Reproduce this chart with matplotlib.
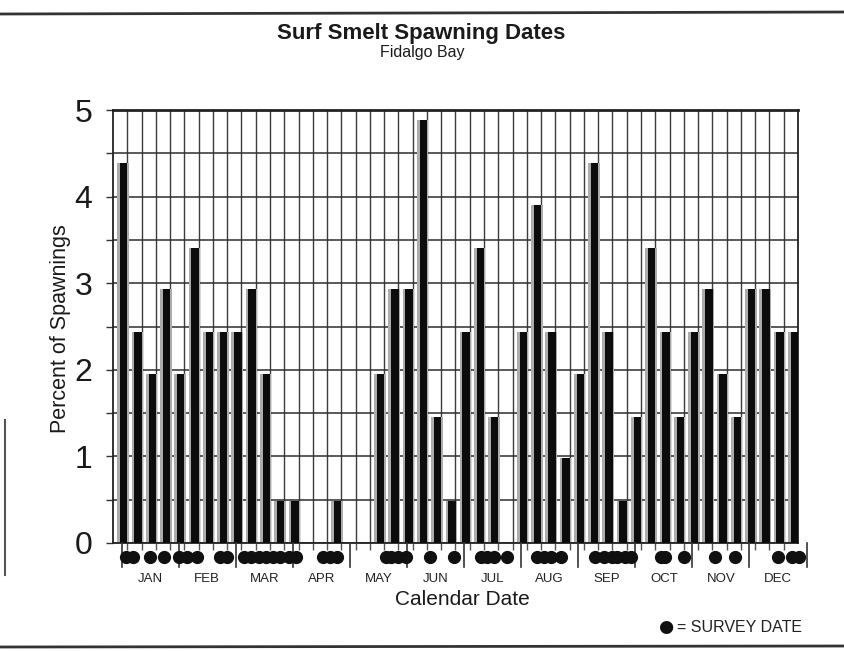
import numpy as np
import matplotlib
matplotlib.use("Agg")
import matplotlib.pyplot as plt

# ---- data -------------------------------------------------------------
months = ["JAN", "FEB", "MAR", "APR", "MAY", "JUN",
          "JUL", "AUG", "SEP", "OCT", "NOV", "DEC"]

# weekly bins (4 per month), percent of all spawnings observed in each bin
week = list(range(48))
percent = [4.39, 2.44, 1.95, 2.93, 1.95, 3.41, 2.44, 2.44,
           2.44, 2.93, 1.95, 0.49, 0.49, 0.00, 0.00, 0.49,
           0.00, 0.00, 1.95, 2.93, 2.93, 4.88, 1.46, 0.49,
           2.44, 3.41, 1.46, 0.00, 2.44, 3.90, 2.44, 0.98,
           1.95, 4.39, 2.44, 0.49, 1.46, 3.41, 2.44, 1.46,
           2.44, 2.93, 1.95, 1.46, 2.93, 2.93, 2.44, 2.44]

# survey dates, in weeks from 1 January (4 weeks per month)
survey = [0.3, 0.8, 2.0, 3.0, 4.0, 4.6, 5.3, 6.9, 7.4,
          8.6, 9.1, 9.6, 10.1, 10.6, 11.1, 11.7, 12.2,
          14.1, 14.6, 15.1, 18.5, 18.9, 19.4, 19.9,
          21.6, 23.3, 25.2, 25.6, 26.1, 27.0,
          29.1, 29.6, 30.1, 30.8, 33.2, 33.8, 34.4, 34.7, 35.3, 35.7,
          37.8, 38.1, 39.4, 41.6, 43.0, 46.0, 47.0, 47.5]

yticks = [0, 1, 2, 3, 4, 5]

# ---- figure -----------------------------------------------------------
plt.rcParams["font.family"] = ["Liberation Sans", "DejaVu Sans"]
W, H = 845, 651
fig = plt.figure(figsize=(W / 100, H / 100), dpi=100)
fig.patch.set_facecolor("white")

L, R, T, B = 113, 798, 110, 543
ax = fig.add_axes([L / W, 1 - B / H, (R - L) / W, (B - T) / H])

x0 = -0.6
ax.set_xlim(x0, x0 + 48)
ax.set_ylim(0, 5)

# grid: one column per week, one row per half percent
ax.set_xticks(np.arange(1, 48) + x0, minor=True)
ax.set_xticks([])
ax.set_yticks(yticks)
ax.set_yticks(np.arange(0.5, 5, 0.5), minor=True)
ax.grid(True, which="minor", axis="x", color="#3c3c3c", lw=1.0)
ax.grid(True, which="both", axis="y", color="#2e2e2e", lw=1.1)
ax.set_axisbelow(True)

for s in ax.spines.values():
    s.set_color("#222222")
    s.set_linewidth(1.3)
ax.spines["top"].set_linewidth(2.0)

ax.tick_params(axis="y", which="both", direction="out", length=5,
               width=1.0, color="#333333", labelsize=23, pad=10)
ax.tick_params(axis="x", which="minor", direction="out", length=5,
               width=1.0, color="#555555")
ax.set_yticklabels([str(v) for v in yticks], color="#1a1a1a")

# bars, with the soft grey fringe of the print
wx = np.array(week) + 0.15
ax.bar(wx - 0.05, percent, width=0.8, color="#acacac", zorder=2)
ax.bar(wx, percent, width=0.52, color="#0c0c0c", zorder=3)

# month separators, labels and survey markers below the axis
trans = ax.get_xaxis_transform()
for m in range(13):
    ax.plot([4 * m, 4 * m], [0, -0.055], transform=trans, color="#333333",
            lw=1.2, clip_on=False, zorder=4)
for m, name in enumerate(months):
    ax.text(4 * m + 2, -0.083, name, transform=trans, ha="center",
            va="center", fontsize=9.5, color="#222222")
ax.plot(survey, [-0.032] * len(survey), "o", transform=trans,
        color="#101010", ms=8.5, clip_on=False, zorder=5)

ax.text(-0.077, 0.494, "Percent of Spawnings", transform=ax.transAxes,
        rotation=90, ha="center", va="center", fontsize=15.5,
        color="#1a1a1a")
ax.text(0.51, -0.13, "Calendar Date", transform=ax.transAxes,
        ha="center", va="center", fontsize=15, color="#1a1a1a")

# titles
fig.text(421 / W, 1 - 33 / H, "Surf Smelt Spawning Dates", ha="center",
         va="center", fontsize=16, fontweight="bold", color="#1a1a1a")
fig.text(422 / W, 1 - 52 / H, "Fidalgo Bay", ha="center", va="center",
         fontsize=11.5, color="#1a1a1a")

# legend key
fig.text(666 / W, 1 - 627 / H, "\u25cf", ha="center", va="center",
         fontsize=12.5, color="#101010", family=["DejaVu Sans"])
fig.text(677 / W, 1 - 627 / H, "= SURVEY DATE", ha="left", va="center",
         fontsize=11.5, color="#222222")

# page frame lines
fig.add_artist(plt.Line2D([0, 1], [1 - 14 / H, 1 - 12 / H], color="#333333",
                          lw=2.0, transform=fig.transFigure))
fig.add_artist(plt.Line2D([0, 1], [1 - 647 / H, 1 - 646 / H], color="#333333",
                          lw=2.0, transform=fig.transFigure))
fig.add_artist(plt.Line2D([5 / W, 5 / W], [1 - 420 / H, 1 - 575 / H],
                          color="#555555", lw=1.5, transform=fig.transFigure))

fig.savefig("out.png", dpi=100, facecolor="white")
